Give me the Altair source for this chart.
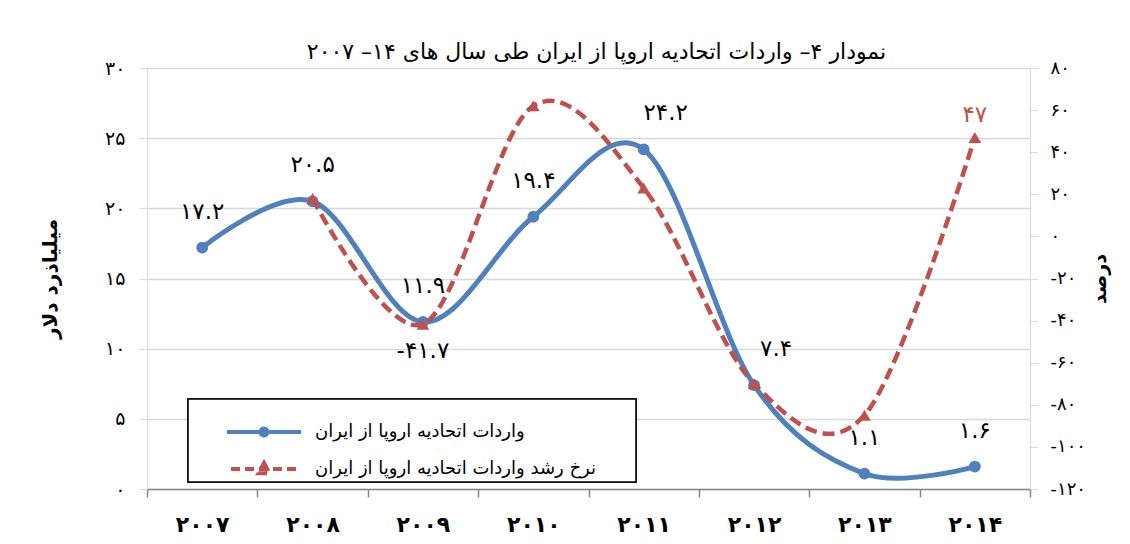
import altair as alt
import pandas as pd

# ---------------- data ----------------
years = ["2007", "2008", "2009", "2010", "2011", "2012", "2013", "2014"]
imports = [17.2, 20.5, 11.9, 19.4, 24.2, 7.4, 1.1, 1.6]
growth_years = ["2008", "2009", "2010", "2011", "2012", "2013", "2014"]
growth = [18.0, -41.7, 62.0, 23.0, -70.0, -85.0, 47.0]
shifted_label_years = ["2011", "2012"]
growth_label_below = ["2009"]
growth_label_above = ["2014"]
series_names = ["واردات اتحادیه اروپا از ایران",
                "نرخ رشد واردات اتحادیه  اروپا از ایران"]
title_text = "نمودار ۴– واردات اتحادیه اروپا از ایران طی سال های ۱۴– ۲۰۰۷"
y_left_title = "میلیاذرد دلار"
y_right_title = "درصد"

FA = str.maketrans("0123456789", "۰۱۲۳۴۵۶۷۸۹")


def fa(v):
    if isinstance(v, float):
        v = f"{v:g}"
    return str(v).translate(FA)


years_fa = [fa(y) for y in years]

blue_df = pd.DataFrame({
    "year": years_fa,
    "yr": years,
    "value": imports,
    "label": [fa(v) for v in imports],
})
red_df = pd.DataFrame({
    "year": [fa(y) for y in growth_years],
    "yr": growth_years,
    "growth": growth,
    "label": [("-" + fa(abs(v))) if v < 0 else fa(v) for v in growth],
})
legend_df = pd.DataFrame({
    "year": [years_fa[0]] * 2,
    "growth": [0, 0],
    "series": series_names,
})

BLUE = "#4F81BD"
RED = "#C0504D"
GRID = "#D9D9D9"
FONT = "DejaVu Sans"

# Persian-digit label expression
expr = "toString(abs(datum.value))"
for d, p in zip("0123456789", "۰۱۲۳۴۵۶۷۸۹"):
    expr = f"replace({expr}, regexp('{d}', 'g'), '{p}')"
label_expr = f"(datum.value < 0 ? '-' : '') + {expr}"

x_enc = alt.X(
    "year:N", sort=years_fa,
    scale=alt.Scale(type="band", paddingInner=0, paddingOuter=0),
    axis=alt.Axis(title=None, labelAngle=0, labelFont=FONT, labelFontSize=22,
                  labelFontWeight="bold", labelColor="black", labelPadding=17,
                  tickBand="extent", tickSize=8, tickColor="#868686",
                  domainColor="#868686", domainWidth=1.5, tickWidth=1.5, grid=False),
)

y_left = alt.Y(
    "value:Q",
    scale=alt.Scale(domain=[0, 30], nice=False, zero=False),
    axis=alt.Axis(values=[0, 5, 10, 15, 20, 25, 30], title=y_left_title,
                  labelExpr=label_expr, labelFont=FONT, labelFontSize=19,
                  labelColor="black", labelPadding=14, tickSize=8,
                  tickColor=GRID, domainColor=GRID, gridColor=GRID, grid=True,
                  gridWidth=1.5, titleFont=FONT, titleFontSize=20,
                  titleFontWeight="bold", titleColor="black", titlePadding=44),
)
y_right = alt.Y(
    "growth:Q",
    scale=alt.Scale(domain=[-120, 80], nice=False, zero=False),
    axis=alt.Axis(orient="right", values=list(range(-120, 81, 20)),
                  title=y_right_title, labelExpr=label_expr, labelFont=FONT,
                  labelFontSize=18, labelColor="black", labelPadding=12,
                  tickSize=8, tickColor=GRID, domainColor=GRID, grid=False,
                  titleFont=FONT, titleFontSize=19, titleFontWeight="bold",
                  titleColor="black", titlePadding=24, titleAngle=270),
)

LBL = 23

blue_base = alt.Chart(blue_df)
blue_line = blue_base.mark_line(color=BLUE, strokeWidth=5,
                                interpolate="cardinal").encode(x=x_enc, y=y_left)
blue_pts = blue_base.mark_circle(color=BLUE, size=140, opacity=1).encode(x=x_enc, y=y_left)
blue_lbl = blue_base.mark_text(font=FONT, fontSize=LBL, dy=-36, color="black").encode(
    x=x_enc, y=y_left, text="label:N"
).transform_filter(~alt.FieldOneOfPredicate(field="yr", oneOf=shifted_label_years))
blue_lbl2 = blue_base.mark_text(font=FONT, fontSize=LBL, dy=-36, dx=22, color="black").encode(
    x=x_enc, y=y_left, text="label:N"
).transform_filter(alt.FieldOneOfPredicate(field="yr", oneOf=shifted_label_years))

blue = alt.layer(blue_line, blue_pts, blue_lbl, blue_lbl2)

red_base = alt.Chart(red_df)
red_line = red_base.mark_line(color=RED, strokeWidth=4.5, strokeDash=[12, 6],
                              interpolate="cardinal").encode(x=x_enc, y=y_right)
red_pts = red_base.mark_point(shape="triangle-up", filled=True, color=RED, size=160,
                              opacity=1).encode(x=x_enc, y=y_right)
red_lbl_below = red_base.mark_text(font=FONT, fontSize=LBL, dy=27, color="black").encode(
    x=x_enc, y=y_right, text="label:N"
).transform_filter(alt.FieldOneOfPredicate(field="yr", oneOf=growth_label_below))
red_lbl_above = red_base.mark_text(font=FONT, fontSize=LBL, dy=-22, color=RED).encode(
    x=x_enc, y=y_right, text="label:N"
).transform_filter(alt.FieldOneOfPredicate(field="yr", oneOf=growth_label_above))

# legend box (decoration)
legend_box = alt.Chart(legend_df).mark_rect(
    fill="white", stroke="black", strokeWidth=1.5
).encode(x=alt.value(41), x2=alt.value(489), y=alt.value(331), y2=alt.value(414))

# legend symbols: symbol size 400 -> scale r = 10 px; paths span +-3.7 -> 74 px wide
blue_path = ("M-3.7,0L3.7,0M0.35,0A0.35,0.35,0,1,1,-0.35,0"
             "A0.35,0.35,0,1,1,0.35,0Z")
red_path = "M-3.3,0L3.3,0M0,-0.6L0.55,0.42L-0.55,0.42Z"

legend_scale_dom = series_names
legend_layer = alt.Chart(legend_df).mark_point(opacity=0, filled=True).encode(
    x=x_enc, y=y_right,
    fill=alt.Fill("series:N", sort=series_names,
                  scale=alt.Scale(domain=legend_scale_dom, range=[BLUE, RED]),
                  legend=alt.Legend(
                      title=None, orient="none", legendX=105, legendY=352,
                      labelFont=FONT, labelFontSize=18, labelColor="black",
                      labelLimit=0, symbolSize=400, symbolStrokeWidth=4,
                      symbolOpacity=1, labelOffset=39, rowPadding=11,
                      padding=0)),
    stroke=alt.Stroke("series:N", sort=series_names,
                      scale=alt.Scale(domain=legend_scale_dom, range=[BLUE, RED])),
    shape=alt.Shape("series:N", sort=series_names,
                    scale=alt.Scale(domain=legend_scale_dom, range=[blue_path, red_path])),
    strokeDash=alt.StrokeDash("series:N", sort=series_names,
                              scale=alt.Scale(domain=legend_scale_dom,
                                              range=[[1, 0], [9, 5]])),
)

red = alt.layer(red_line, red_pts, red_lbl_below, red_lbl_above, legend_box, legend_layer)

chart = alt.layer(blue, red).resolve_scale(y="independent").properties(
    width=883, height=421,
    title=alt.TitleParams(title_text, font=FONT, fontSize=22, fontWeight="normal",
                          color="black", offset=0, dx=8, dy=5),
    autosize=alt.AutoSizeParams(type="none"),
    padding={"left": 139, "top": 60, "right": 85, "bottom": 52},
).configure_view(stroke=None).configure(background="white")

chart.save("out.html", embed_options={"renderer": "svg", "actions": False})
